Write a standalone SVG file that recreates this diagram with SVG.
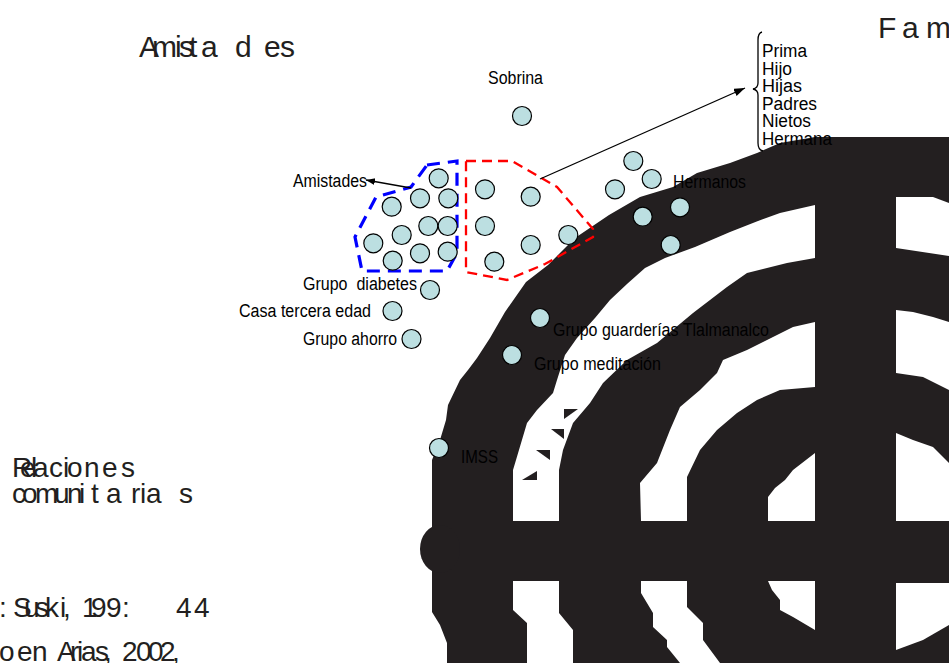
<svg xmlns="http://www.w3.org/2000/svg" width="949" height="663" viewBox="0 0 949 663">
  <defs>
    <style>
      .ink{fill:#231f20}
      .gap{fill:#ffffff}
      .dot{fill:#bcdfe1;stroke:#000;stroke-width:1.2}
      .lbl{font-family:"Liberation Sans",Arial,sans-serif;font-size:18px;fill:#000}
      .big{font-family:"Liberation Sans",Arial,sans-serif;font-size:30px;fill:#231f20}
      .mid{font-family:"Liberation Sans",Arial,sans-serif;font-size:28px;fill:#231f20}
      .wire{stroke:#000;stroke-width:1.3;fill:none}
      .hullA{fill:none;stroke:#0000ff;stroke-width:3.2;stroke-dasharray:13 8}
      .hullF{fill:none;stroke:#ff0000;stroke-width:2.3;stroke-dasharray:10 6}
    </style>
    <marker id="head" markerWidth="12" markerHeight="10" refX="11" refY="4" orient="auto" markerUnits="userSpaceOnUse">
      <path d="M0,0 L11,4 L0,8 Z" fill="#000"/>
    </marker>
    <marker id="headS" markerWidth="10" markerHeight="8" refX="9" refY="3.5" orient="auto" markerUnits="userSpaceOnUse">
      <path d="M0,0 L9,3.5 L0,7 Z" fill="#000"/>
    </marker>
  </defs>

  <rect width="949" height="663" fill="#ffffff"/>

  <!-- concentric rings and cross bars -->
  <g id="rings">
    <path class="ink" d="M447,663 L447,643 L440,625 L432,612 L432,460 L440,440 L446,420 L448,405 L460,380 L468,370 L477,358 L490,338 L505,312 L526,282 L548,265 L575,238 L609,215 L640,197 L673,187 L697,173 L730,163 L757,153 L780,143 L815,137 L949,137 L949,663 Z"/>
    <ellipse class="ink" cx="440" cy="549" rx="20" ry="24"/>
    <!-- gaps between rings, above the horizontal bar -->
    <path class="gap" d="M513,521 L513,470 L516,460 L527,423 L537,410 L553,393 L557,380 L565,355 L577,338 L595,318 L610,300 L627,284 L645,268 L665,258 L695,247 L730,232 L758,221 L780,213 L815,205 L815,258 L787,263 L747,273 L727,287 L693,313 L657,343 L627,360 L603,383 L590,403 L573,423 L563,450 L559,470 L559,521 Z"/>
    <path class="gap" d="M641,521 L640,483 L657,463 L670,430 L680,407 L700,390 L717,373 L723,360 L747,350 L773,337 L793,327 L815,322 L815,387 L780,390 L757,400 L737,413 L717,430 L700,450 L687,477 L687,521 Z"/>
    <path class="gap" d="M768,521 L768,497 L775,488 L785,480 L793,470 L815,453 L815,521 Z"/>
    <path class="gap" d="M896,197 L933,197 L949,203 L949,256 L896,248 Z"/>
    <path class="gap" d="M896,310 L913,312 L933,317 L949,322 L949,390 L923,377 L896,373 Z"/>
    <path class="gap" d="M896,433 L913,440 L933,447 L949,463 L949,521 L896,521 Z"/>
    <!-- gaps below the horizontal bar -->
    <path class="gap" d="M768,581 L815,581 L815,630 L793,617 L780,610 L780,600 L772,590 Z"/>
    <path class="gap" d="M896,583 L949,583 L949,625 L923,640 L896,650 Z"/>
    <path class="gap" d="M641,581 L687,581 L687,607 L703,623 L703,640 L720,663 L680,663 L667,647 L667,640 L653,627 L653,613 L641,593 Z"/>
    <path class="gap" d="M513,581 L559,581 L559,613 L573,630 L573,663 L527,663 L527,623 L513,610 Z"/>
    <!-- small wedges in the outer gap -->
    <path class="ink" d="M564,409 L578,409 L564,419 Z"/>
    <path class="ink" d="M551,429 L564,429 L564,439 Z"/>
    <path class="ink" d="M536,450 L550,450 L550,460 Z"/>
    <path class="ink" d="M522,480 L537,480 L537,471 Z"/>
  </g>

  <!-- titles -->
  <g id="titles">
    <text class="big" x="139 152 175 179 189 201 235 264 280" y="57">Amistades</text>
    <text class="big" x="878 902 926" y="38">Fam</text>
    <text class="mid" x="12 20 31 33 49 63 67 84 102 121" y="477">Relaciones</text>
    <text class="mid" x="12 22 35 54 67 79 91 106 131 140 146 179" y="503">comunitarias</text>
    <text class="mid" x="-1 5 13 24 35 45 60 63 70 82 91 106 122 130 176 194" y="617">: Suski, 199: 44</text>
    <text class="mid" x="-1 10 17 32 47 57 70 77 81 95 104 115 122 136 148 160 172 186" y="661">o en Arias, 2002,</text>
  </g>

  <!-- group outlines -->
  <g id="hulls">
    <path class="hullA" d="M427,165 L457,161 L457,253 L447,271 L362,271 L355,237 L376,197 L411,187 Z"/>
    <path class="hullF" d="M466,161 L512,161 L557,187 L593,229 L593,237 L545,264 L507,280 L466,272 Z"/>
  </g>

  <!-- connectors -->
  <g id="connectors">
    <line class="wire" x1="540" y1="179" x2="745" y2="88" marker-end="url(#head)"/>
    <line class="wire" x1="411" y1="188" x2="366" y2="180" marker-end="url(#headS)"/>
    <path class="wire" d="M762,32 Q758,33 758,40 L758,83 Q758,88 753,89 Q758,90 758,95 L758,143 Q758,150 763,151"/>
  </g>

  <!-- family list -->
  <g id="family-list">
    <text class="lbl" x="762" y="57" textLength="45" lengthAdjust="spacingAndGlyphs">Prima</text>
    <text class="lbl" x="762" y="74.5" textLength="30" lengthAdjust="spacingAndGlyphs">Hijo</text>
    <text class="lbl" x="762" y="92" textLength="40" lengthAdjust="spacingAndGlyphs">Hijas</text>
    <text class="lbl" x="762" y="109.5" textLength="55" lengthAdjust="spacingAndGlyphs">Padres</text>
    <text class="lbl" x="762" y="127" textLength="49" lengthAdjust="spacingAndGlyphs">Nietos</text>
    <text class="lbl" x="762" y="145" textLength="70" lengthAdjust="spacingAndGlyphs">Hermana</text>
  </g>

  <g id="sobrina">
    <circle class="dot" cx="522" cy="116" r="9.5"/>
    <text class="lbl" x="488" y="84" textLength="55" lengthAdjust="spacingAndGlyphs">Sobrina</text>
  </g>

  <g id="amistades">
    <circle class="dot" cx="438.7" cy="178.3" r="9.5"/>
    <circle class="dot" cx="420" cy="198.3" r="9.5"/>
    <circle class="dot" cx="448.3" cy="198.3" r="9.5"/>
    <circle class="dot" cx="391.7" cy="206.7" r="9.5"/>
    <circle class="dot" cx="428.3" cy="226" r="9.5"/>
    <circle class="dot" cx="447.7" cy="226" r="9.5"/>
    <circle class="dot" cx="401.7" cy="235" r="9.5"/>
    <circle class="dot" cx="373.3" cy="243.3" r="9.5"/>
    <circle class="dot" cx="420" cy="253.3" r="9.5"/>
    <circle class="dot" cx="447.7" cy="251.7" r="9.5"/>
    <circle class="dot" cx="392.7" cy="260.7" r="9.5"/>
    <text class="lbl" x="293" y="186.5" textLength="74" lengthAdjust="spacingAndGlyphs">Amistades</text>
  </g>

  <g id="familia">
    <circle class="dot" cx="485" cy="189.3" r="9.5"/>
    <circle class="dot" cx="530.7" cy="196.7" r="9.5"/>
    <circle class="dot" cx="485" cy="226" r="9.5"/>
    <circle class="dot" cx="530.7" cy="245" r="9.5"/>
    <circle class="dot" cx="494.3" cy="261.7" r="9.5"/>
    <circle class="dot" cx="568.3" cy="235" r="9.5"/>
  </g>

  <g id="hermanos">
    <circle class="dot" cx="633.3" cy="161" r="9.5"/>
    <circle class="dot" cx="651.7" cy="179" r="9.5"/>
    <circle class="dot" cx="615" cy="189.3" r="9.5"/>
    <circle class="dot" cx="680" cy="207.3" r="9.5"/>
    <circle class="dot" cx="642.7" cy="216.7" r="9.5"/>
    <circle class="dot" cx="670.7" cy="245" r="9.5"/>
    <text class="lbl" x="673" y="188" textLength="73" lengthAdjust="spacingAndGlyphs">Hermanos</text>
  </g>

  <g id="grupo-diabetes">
    <circle class="dot" cx="430" cy="290" r="9.5"/>
    <text class="lbl" x="303" y="290" textLength="114" lengthAdjust="spacingAndGlyphs" xml:space="preserve">Grupo  diabetes</text>
  </g>

  <g id="casa-tercera-edad">
    <circle class="dot" cx="392.5" cy="311" r="9.5"/>
    <text class="lbl" x="239" y="317" textLength="132" lengthAdjust="spacingAndGlyphs">Casa tercera edad</text>
  </g>

  <g id="grupo-ahorro">
    <circle class="dot" cx="411.5" cy="339" r="9.5"/>
    <text class="lbl" x="303" y="345" textLength="94" lengthAdjust="spacingAndGlyphs">Grupo ahorro</text>
  </g>

  <g id="grupo-guarderias">
    <circle class="dot" cx="540" cy="318" r="9.5"/>
    <text class="lbl" x="553" y="336" textLength="216" lengthAdjust="spacingAndGlyphs">Grupo guarderías Tlalmanalco</text>
  </g>

  <g id="grupo-meditacion">
    <circle class="dot" cx="512" cy="355" r="9.5"/>
    <text class="lbl" x="534" y="370" textLength="127" lengthAdjust="spacingAndGlyphs">Grupo meditación</text>
  </g>

  <g id="imss">
    <circle class="dot" cx="439" cy="448" r="9.5"/>
    <text class="lbl" x="461" y="463" textLength="37" lengthAdjust="spacingAndGlyphs">IMSS</text>
  </g>
</svg>
